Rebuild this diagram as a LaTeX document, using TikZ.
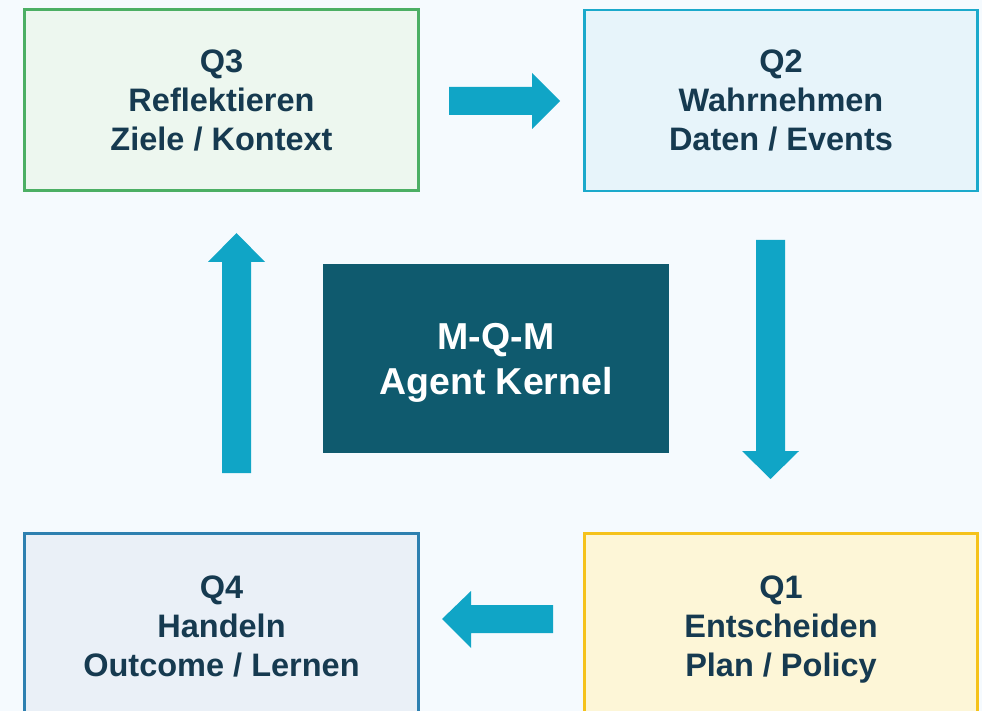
\documentclass[tikz,border=0pt]{standalone}
\usepackage{fontspec}
\setmainfont{Liberation Sans}
\definecolor{bg}{HTML}{F5FAFE}
\definecolor{txt}{HTML}{163A50}
\definecolor{greenB}{HTML}{4CAF64}
\definecolor{greenF}{HTML}{EDF7EF}
\definecolor{cyanB}{HTML}{1BA9CB}
\definecolor{cyanF}{HTML}{E7F4FA}
\definecolor{blueB}{HTML}{2E80B0}
\definecolor{blueF}{HTML}{EAF0F7}
\definecolor{yelB}{HTML}{F5C21B}
\definecolor{yelF}{HTML}{FDF6D7}
\definecolor{kern}{HTML}{0F5A6E}
\definecolor{arr}{HTML}{10A5C6}
\tikzset{
  qbox/.style={draw, line width=2.6pt, rectangle, inner sep=0pt, align=center,
    text=txt, font=\bfseries\fontsize{32.5}{39}\selectfont, text depth=0pt,
    minimum width=393.5pt, minimum height=181pt},
  kbox/.style={fill=kern, rectangle, inner sep=0pt, align=center, text=white,
    font=\bfseries\fontsize{37.5}{45}\selectfont, text depth=0pt,
    minimum width=346pt, minimum height=189pt},
  blockarrow/.style={fill=arr, draw=none}
}
\begin{document}
\begin{tikzpicture}[x=1pt,y=-1pt]
\clip (0,0) rectangle (982,711);
\fill[bg] (0,0) rectangle (982,711);
\node[qbox, draw=greenB, fill=greenF] (q3) at (221.5,100) {Q3\\Reflektieren\\Ziele / Kontext};
\node[qbox, draw=cyanB, fill=cyanF] (q2) at (781,100.5) {Q2\\Wahrnehmen\\Daten / Events};
\node[qbox, draw=blueB, fill=blueF, minimum height=185pt] (q4) at (221.5,626) {Q4\\Handeln\\Outcome / Lernen};
\node[qbox, draw=yelB, fill=yelF, minimum height=185pt] (q1) at (781,626) {Q1\\Entscheiden\\Plan / Policy};
\node[kbox] (k) at (496,358.5) {M-Q-M\\Agent Kernel};
% Q3 -> Q2
\fill[blockarrow] (449,87) -- (532,87) -- (532,73) -- (560,101) -- (532,129) -- (532,115) -- (449,115) -- cycle;
% Q2 -> Q1
\fill[blockarrow] (756,240) -- (785,240) -- (785,451) -- (799,451) -- (770.5,479) -- (742,451) -- (756,451) -- cycle;
% Q1 -> Q4
\fill[blockarrow] (553,605) -- (471,605) -- (471,591) -- (442,619) -- (471,648) -- (471,633) -- (553,633) -- cycle;
% Q4 -> Q3
\fill[blockarrow] (222,473) -- (222,262) -- (208,262) -- (236.5,233) -- (265,262) -- (251,262) -- (251,473) -- cycle;
\end{tikzpicture}
\end{document}
